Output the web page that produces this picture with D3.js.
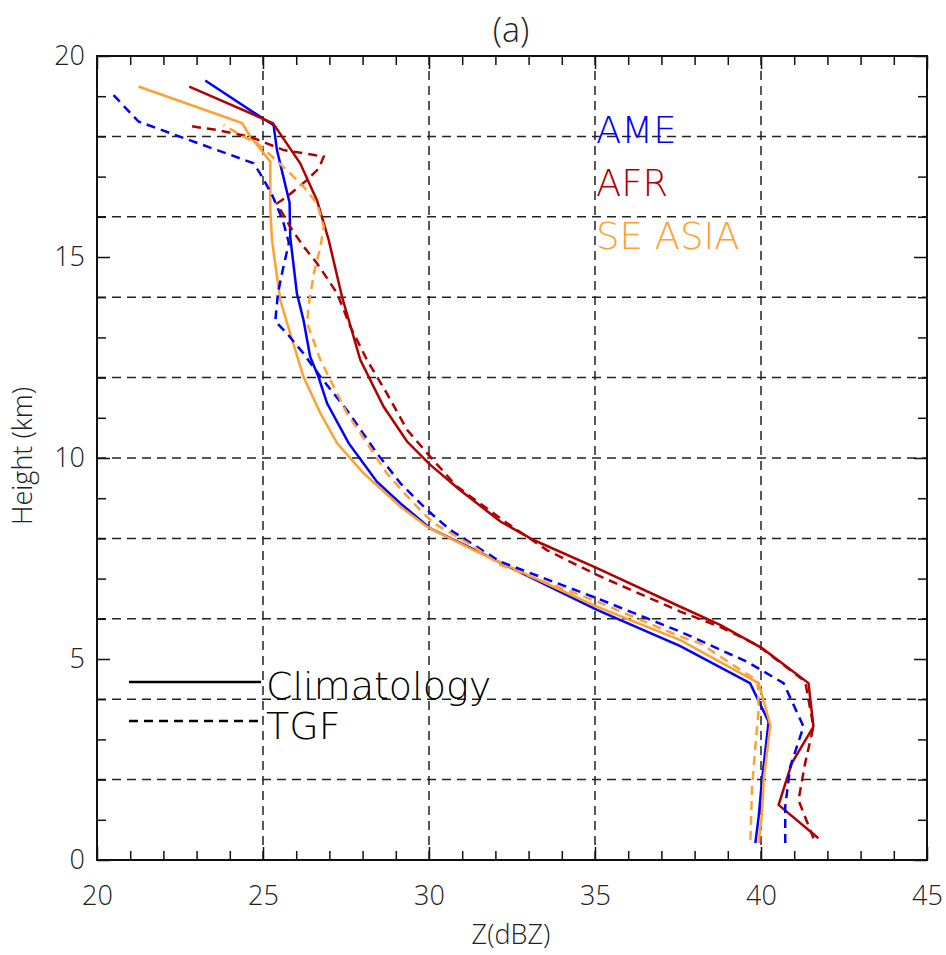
<!DOCTYPE html>
<html>
<head>
<meta charset="utf-8">
<script src="https://cdn.jsdelivr.net/npm/d3@7"></script>
<style>
  body { margin: 0; background: #fff; }
  text { font-family: "Open Sans", "DejaVu Sans", sans-serif; font-weight: 300; }
  .legend text { font-family: "DejaVu Sans", sans-serif; font-weight: 200; }
</style>
</head>
<body>
<div id="chart"></div>
<script>
// profiles as [Z (dBZ), height (km)] pairs
const ameClim = [[39.83,0.42],[39.93,1.08],[40.03,1.99],[40.23,3.44],[39.67,4.40],[37.57,5.32],[35.06,6.22],[32.15,7.40],[31.24,7.77],[30.04,8.25],[29.14,8.87],[28.43,9.41],[27.58,10.37],[26.93,11.36],[26.67,12.02],[26.42,12.52],[26.22,13.43],[26.02,14.10],[25.82,15.50],[25.80,16.35],[25.42,17.66],[25.32,18.28],[24.99,18.45],[23.26,19.39]];
const afrClim = [[41.73,0.54],[40.53,1.37],[40.93,2.41],[41.58,3.32],[41.43,4.40],[40.03,5.27],[38.77,5.85],[37.57,6.30],[35.06,7.26],[33.15,7.96],[32.15,8.42],[30.94,9.20],[30.04,9.83],[29.34,10.41],[28.63,11.28],[27.93,12.44],[27.38,14.01],[26.98,15.42],[26.63,16.40],[26.12,17.33],[25.30,18.33],[22.78,19.24]];
const seaClim = [[39.93,0.42],[40.03,1.16],[40.08,1.99],[40.28,3.36],[39.93,4.40],[37.57,5.47],[35.06,6.30],[31.34,7.71],[29.94,8.29],[29.14,8.79],[28.03,9.62],[27.23,10.37],[26.73,11.11],[26.22,12.02],[25.82,13.10],[25.52,13.93],[25.27,15.42],[25.22,16.20],[25.22,17.37],[25.02,17.58],[24.62,17.99],[24.37,18.33],[21.25,19.24]];
const ameTgf = [[40.73,0.42],[40.73,1.33],[40.88,2.32],[41.28,3.32],[40.68,4.40],[39.58,4.93],[37.57,5.68],[35.06,6.51],[32.15,7.42],[30.64,8.21],[29.94,8.71],[29.14,9.37],[28.43,10.12],[27.53,11.19],[26.73,12.02],[26.22,12.60],[25.72,13.10],[25.37,13.40],[25.45,14.10],[25.60,14.70],[25.78,15.35],[25.60,15.90],[25.30,16.50],[24.97,17.00],[24.72,17.33],[24.02,17.54],[22.51,17.99],[21.25,18.37],[20.45,19.07]];
const afrTgf = [[41.58,0.54],[41.13,1.49],[41.33,2.41],[41.58,3.32],[41.33,4.44],[39.88,5.35],[38.77,5.80],[37.57,6.18],[35.06,7.09],[33.55,7.71],[32.35,8.38],[30.84,9.29],[30.04,10.03],[29.34,10.70],[28.73,11.61],[28.13,12.44],[27.63,13.27],[27.23,14.10],[26.63,14.84],[26.22,15.26],[25.82,15.75],[25.42,16.33],[25.72,16.50],[26.33,16.92],[26.68,17.20],[26.83,17.50],[25.62,17.66],[24.62,17.99],[23.61,18.16],[22.78,18.26]];
const seaTgf = [[39.68,0.50],[39.73,1.82],[39.83,2.82],[39.93,3.73],[39.90,4.45],[38.17,5.39],[37.57,5.56],[35.06,6.43],[32.15,7.34],[31.34,7.80],[30.14,8.38],[29.54,8.87],[28.73,9.62],[28.13,10.37],[27.53,11.11],[27.03,11.94],[26.73,12.44],[26.33,13.35],[26.37,13.77],[26.53,14.59],[26.73,15.26],[26.83,15.75],[26.63,16.33],[26.22,16.75],[25.82,17.08],[25.22,17.54],[24.82,17.83],[24.42,17.99],[23.81,18.28]];

const regions = ["AME", "AFR", "SE ASIA"];
const regionColors = ["#0000ff", "#b00000", "#ffa033"];
const styleNames = ["Climatology", "TGF"];
const xTicks = [20, 25, 30, 35, 40, 45];
const yTicks = [0, 5, 10, 15, 20];
const xGrid = [25, 30, 35, 40];
const yGrid = [2, 4, 6, 8, 10, 12, 14, 16, 18];

const width = 946, height = 955;
const plotL = 97, plotR = 927, plotT = 56, plotB = 860;

const svg = d3.select('#chart').append('svg')
    .attr('width', width)
    .attr('height', height);

const x = d3.scaleLinear().domain([20, 45]).range([plotL, plotR]);
const y = d3.scaleLinear().domain([0, 20]).range([plotB, plotT]);

// dashed grid
svg.append('g').selectAll('line')
    .data(xGrid).enter().append('line')
    .attr('x1', d => x(d)).attr('x2', d => x(d))
    .attr('y1', plotT).attr('y2', plotB)
    .attr('stroke', '#222').attr('stroke-width', 1.5)
    .attr('stroke-dasharray', '9,6');
svg.append('g').selectAll('line')
    .data(yGrid).enter().append('line')
    .attr('x1', plotL).attr('x2', plotR)
    .attr('y1', d => y(d)).attr('y2', d => y(d))
    .attr('stroke', '#222').attr('stroke-width', 1.5)
    .attr('stroke-dasharray', '9,6');

// profiles
const line = d3.line().x(d => x(d[0])).y(d => y(d[1]));
const series = [
    { data: ameClim, c: 0, dash: null },
    { data: afrClim, c: 1, dash: null },
    { data: seaClim, c: 2, dash: null },
    { data: ameTgf, c: 0, dash: '9,6' },
    { data: afrTgf, c: 1, dash: '9,6' },
    { data: seaTgf, c: 2, dash: '9,6' }
];
svg.append('g').selectAll('path')
    .data(series).enter().append('path')
    .attr('d', d => line(d.data))
    .attr('fill', 'none')
    .attr('stroke', d => regionColors[d.c])
    .attr('stroke-width', 2.5)
    .attr('stroke-dasharray', d => d.dash);

// axes, ticks pointing inward on all four sides
const minorX = d3.range(20, 46, 1).filter(v => v % 5 !== 0);
const minorY = d3.range(0, 21, 1).filter(v => v % 5 !== 0);

function addAxis(axis, tx, ty, labels) {
    const g = svg.append('g').attr('transform', `translate(${tx},${ty})`).call(axis);
    g.select('.domain').remove();
    g.selectAll('line').attr('stroke', '#111').attr('stroke-width', 1.5);
    g.selectAll('text').attr('fill', '#222').style('font-size', '27px');
    if (!labels) g.selectAll('text').remove();
    return g;
}
addAxis(d3.axisBottom(x).tickValues(minorX).tickSize(-9), 0, plotB, false);
addAxis(d3.axisBottom(x).tickValues(xTicks).tickSize(-13).tickPadding(26).tickFormat(d3.format('d')), 0, plotB, true);
addAxis(d3.axisTop(x).tickValues(minorX).tickSize(-9), 0, plotT, false);
addAxis(d3.axisTop(x).tickValues(xTicks).tickSize(-13), 0, plotT, false);
addAxis(d3.axisLeft(y).tickValues(minorY).tickSize(-9), plotL, 0, false);
addAxis(d3.axisLeft(y).tickValues(yTicks).tickSize(-13).tickPadding(12).tickFormat(d3.format('d')), plotL, 0, true);
addAxis(d3.axisRight(y).tickValues(minorY).tickSize(-9), plotR, 0, false);
addAxis(d3.axisRight(y).tickValues(yTicks).tickSize(-13), plotR, 0, false);

svg.append('rect')
    .attr('x', plotL).attr('y', plotT)
    .attr('width', plotR - plotL).attr('height', plotB - plotT)
    .attr('fill', 'none').attr('stroke', '#111').attr('stroke-width', 2);

// titles
svg.append('text').attr('x', 511).attr('y', 42)
    .attr('text-anchor', 'middle').style('font-size', '34px').attr('fill', '#222')
    .text('(a)');
svg.append('text').attr('x', 511).attr('y', 944)
    .attr('text-anchor', 'middle').style('font-size', '27px').attr('fill', '#222')
    .text('Z(dBZ)');
svg.append('text')
    .attr('transform', 'translate(32,456) rotate(-90)')
    .attr('text-anchor', 'middle').style('font-size', '27px').attr('fill', '#222')
    .text('Height (km)');

// region legend
svg.append('g').attr('class', 'legend').selectAll('text')
    .data(regions).enter().append('text')
    .attr('x', 596)
    .attr('y', (d, i) => 143 + i * 53)
    .style('font-size', '37px')
    .attr('fill', (d, i) => regionColors[i])
    .text(d => d);

// line style legend
const leg = svg.append('g').attr('class', 'legend');
styleNames.forEach((name, i) => {
    const ly = 682 + i * 39;
    leg.append('line')
        .attr('x1', 129).attr('x2', 261)
        .attr('y1', ly).attr('y2', ly)
        .attr('stroke', '#000').attr('stroke-width', 2.5)
        .attr('stroke-dasharray', i ? '9,6' : null);
    leg.append('text')
        .attr('x', 266).attr('y', i ? 739 : 699)
        .style('font-size', '38px').attr('fill', '#000')
        .text(name);
});
</script>
</body>
</html>
